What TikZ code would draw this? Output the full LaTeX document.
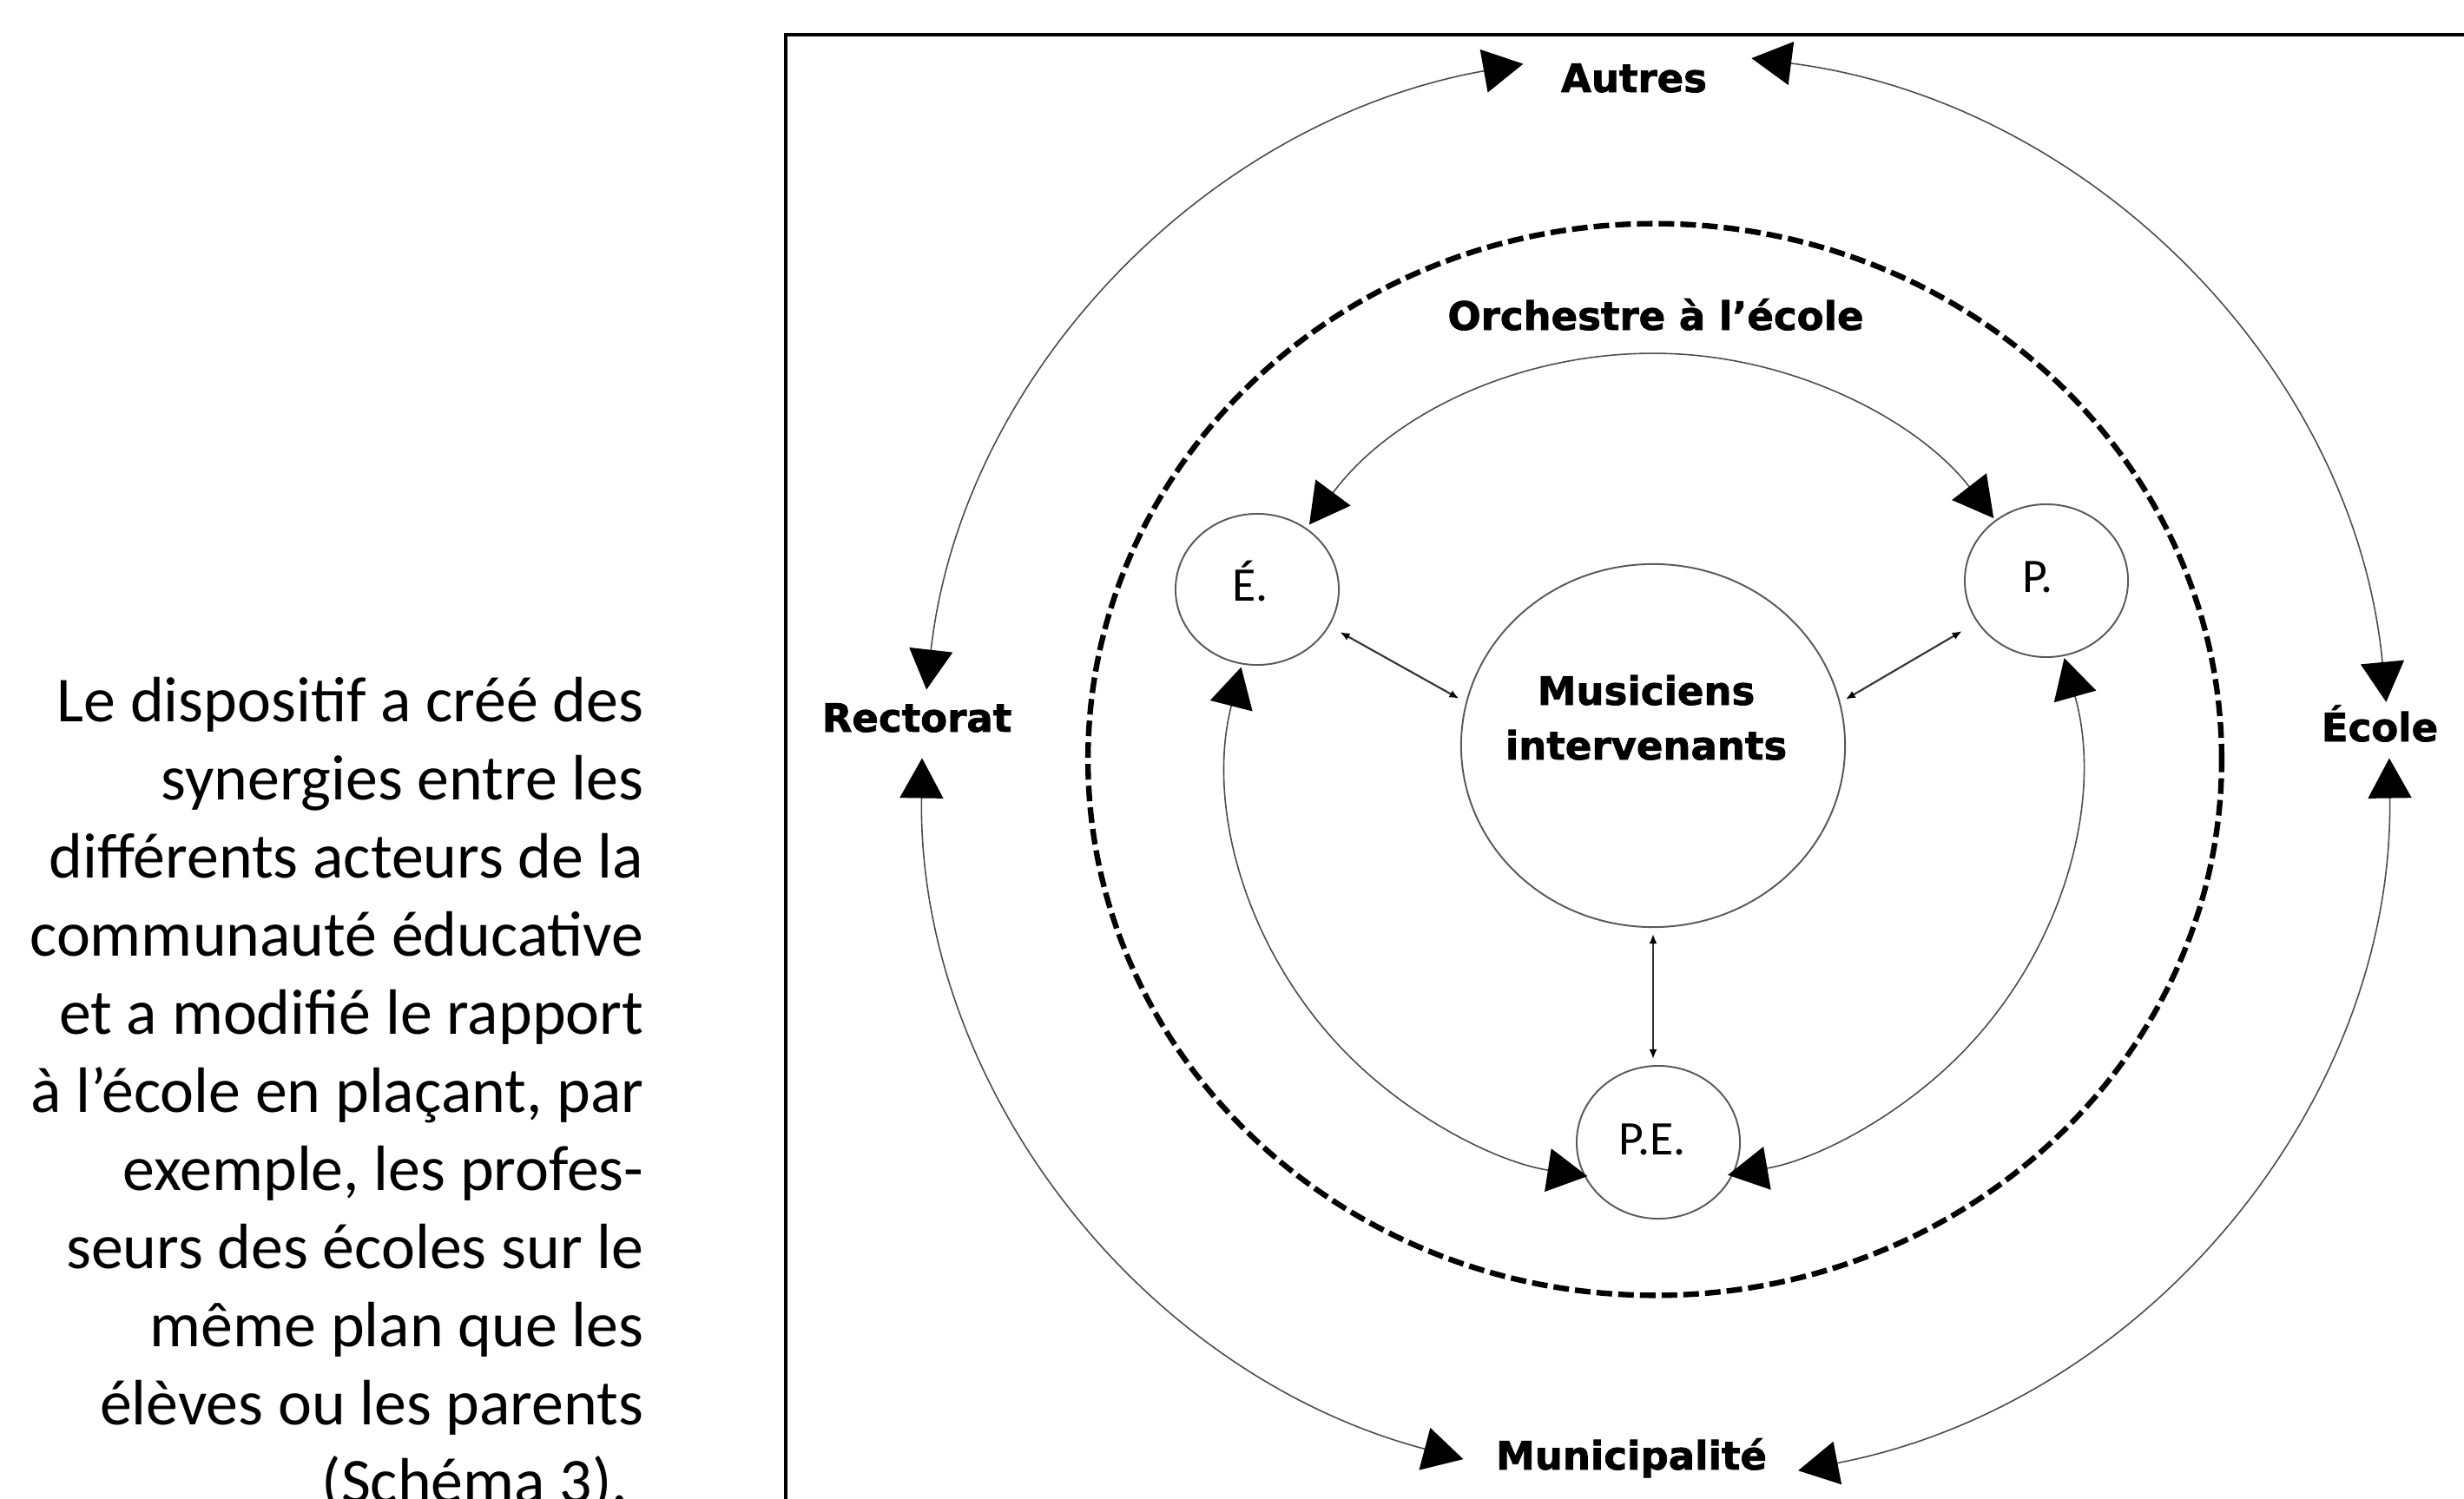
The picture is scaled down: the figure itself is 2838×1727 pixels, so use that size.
\documentclass[tikz,border=0pt]{standalone}
\usepackage{fontspec}
\setmainfont{Carlito}
\newfontfamily\labfont{DejaVu Sans}[BoldFeatures={FakeBold=1.6}]
\usetikzlibrary{arrows.meta,shapes.geometric,calc}
\tikzset{
  big/.style={line width=0.45pt, draw=black!70,
    {Triangle[length=0.46cm,width=0.5cm,color=black]}-{Triangle[length=0.46cm,width=0.5cm,color=black]}},
  small/.style={line width=0.6pt, draw=black!80,
    {Latex[length=0.11cm,width=0.09cm,color=black]}-{Latex[length=0.11cm,width=0.09cm,color=black]}},
  circ/.style={ellipse, draw=black!65, line width=0.55pt, inner sep=0pt},
  dashring/.style={ellipse, draw=black, line width=1.8pt, dash pattern=on 0.18cm off 0.07cm, inner sep=0pt},
  lab/.style={font=\labfont\bfseries\fontsize{12.8pt}{15pt}\selectfont, inner sep=0pt, anchor=base},
  ini/.style={font=\fontsize{15.8pt}{18pt}\selectfont, inner sep=0pt, anchor=base},
  para/.style={font=\fontsize{21pt}{25pt}\selectfont, inner sep=0pt, anchor=base east},
}
\begin{document}
\begin{tikzpicture}[x=0.01cm,y=-0.01cm]
\useasboundingbox (0,0) rectangle (2838,1727);
\clip (0,0) rectangle (2838,1727);
\fill[white] (0,0) rectangle (2838,1727);

% frame
\draw[line width=1.4pt] (2860,40) -- (905,40) -- (905,1760);

% paragraph
\node[para] (t1) at (742,831) {Le dispositif a créé des};
\node[para] (t2) at (742,921) {synergies entre les};
\node[para] (t3) at (742,1011) {différents acteurs de la};
\node[para] (t4) at (742,1101) {communauté éducative};
\node[para] (t5) at (742,1191) {et a modifié le rapport};
\node[para] (t6) at (742,1281) {à l’école en plaçant, par};
\node[para] (t7) at (742,1371) {exemple, les profes-};
\node[para] (t8) at (742,1461) {seurs des écoles sur le};
\node[para] (t9) at (742,1551) {même plan que les};
\node[para] (t10) at (742,1641) {élèves ou les parents};
\node[para] (t11) at (724,1731) {(Schéma 3).};

% outer labels
\node[lab] (autres) at (1882,106) {Autres};
\node[lab] (rect) at (1056,843) {Rectorat};
\node[lab] (ecole) at (2741,854) {École};
\node[lab] (muni) at (1879,1693) {Municipalité};
\node[lab] (orch) at (1907,380) {Orchestre à l’école};

% dashed ring
\node[dashring, minimum width=13.05cm, minimum height=12.34cm] (ring) at (1906,875) {};

% circles
\node[circ, minimum width=4.42cm, minimum height=4.18cm] (M) at (1904,859) {};
\node[circ, minimum width=1.88cm, minimum height=1.74cm] (E) at (1448,679) {};
\node[circ, minimum width=1.88cm, minimum height=1.76cm] (P) at (2357,669) {};
\node[circ, minimum width=1.88cm, minimum height=1.76cm] (PE) at (1910,1316) {};

\node[lab] (Mt1) at (1896,812) {Musiciens};
\node[lab] (Mt2) at (1896,875) {intervenants};
\node[ini] (Et) at (1440,692) {É.};
\node[ini] (Pt) at (2347,682) {P.};
\node[ini] (PEt) at (1903,1330) {P.E.};

% outer arc end points
\coordinate (rN) at (1067.1,794.5);
\coordinate (aW) at (1754.5,73.6);
\coordinate (aE) at (2017.3,67.1);
\coordinate (eN) at (2748.4,808.8);
\coordinate (eS) at (2751.9,873.5);
\coordinate (mE) at (2071.1,1694.3);
\coordinate (mW) at (1685.4,1681.1);
\coordinate (rS) at (1062.1,873.5);

\draw[big] (rN) arc[start angle=186.3, end angle=259.6, x radius=845, y radius=825];
\draw[big] (aE) arc[start angle=277.5, end angle=354.7, x radius=845, y radius=825];
\draw[big] (eS) arc[start angle=-0.8, end angle=78.8, x radius=845, y radius=825];
\draw[big] (mW) arc[start angle=105.2, end angle=180.8, x radius=845, y radius=825];

% inner arc end points
\coordinate (iEt) at (1508.0,604.4);
\coordinate (iPt) at (2296.3,596.9);
\coordinate (iEb) at (1429.6,768.6);
\coordinate (iPEl) at (1828.3,1355.1);
\coordinate (iPb) at (2377.6,758.1);
\coordinate (iPEr) at (1990.1,1353.8);

\draw[big] (iEt) arc[start angle=215.9, end angle=323, x radius=490, y radius=477];
\draw[big] (iEb) arc[start angle=194, end angle=99, x radius=490, y radius=477];
\draw[big] (iPb) arc[start angle=-15.3, end angle=80, x radius=490, y radius=477];

% small arrows
\draw[small, shorten <=0.14cm, shorten >=0.09cm] (E.-27) -- (M.167);
\draw[small, shorten <=0.2cm, shorten >=0.07cm] (P.211.8) -- (M.13);
\draw[small, shorten <=0.07cm, shorten >=0.07cm] (M.south) -- (M.south |- PE.north);
\end{tikzpicture}
\end{document}
